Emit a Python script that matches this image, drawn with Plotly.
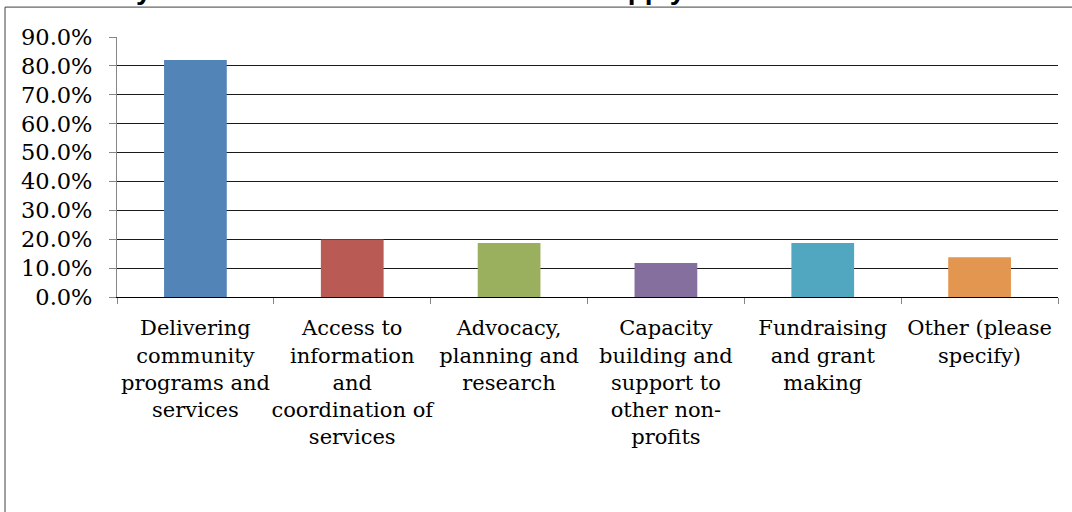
import plotly.graph_objects as go

categories = [
    "Delivering<br>community<br>programs and<br>services",
    "Access to<br>information<br>and<br>coordination of<br>services",
    "Advocacy,<br>planning and<br>research",
    "Capacity<br>building and<br>support to<br>other non-<br>profits",
    "Fundraising<br>and grant<br>making",
    "Other (please<br>specify)",
]
values = [82.0, 19.9, 18.7, 11.8, 18.7, 13.8]
colors = ["#5384B7", "#B95A54", "#9BB05E", "#856F9F", "#50A7BF", "#E3964F"]
y_ticks = [0, 10, 20, 30, 40, 50, 60, 70, 80, 90]
y_labels = [f"{v:.1f}%" for v in y_ticks]
title_text = "What are your main activities? Check all that apply."

fig = go.Figure(go.Bar(x=categories, y=values, marker=dict(color=colors, line=dict(width=0))))

fig.update_layout(
    width=1072, height=512,
    margin=dict(l=117, r=14, t=37, b=215, autoexpand=False),
    paper_bgcolor="white", plot_bgcolor="white",
    bargap=0.6, showlegend=False,
    font=dict(family="DejaVu Serif", color="#000"),
)
fig.update_yaxes(
    range=[0, 90], tickvals=y_ticks, ticktext=y_labels,
    showgrid=True, gridcolor="#1a1a1a", gridwidth=1,
    showline=True, linecolor="#868686", linewidth=1,
    ticks="outside", ticklen=7, tickcolor="#868686",
    tickfont=dict(size=22.5, family="DejaVu Serif", color="#000"),
    ticklabelstandoff=12, zeroline=False, automargin=False,
)
fig.update_xaxes(
    tickson="boundaries", ticks="outside", ticklen=6, tickcolor="#868686",
    showline=True, linecolor="#000", linewidth=1,
    tickfont=dict(size=21, family="DejaVu Serif", color="#000"),
    ticklabelstandoff=12, tickangle=0, automargin=False,
)
# outer chart border
fig.add_shape(type="rect", xref="paper", yref="paper",
              x0=-0.119, x1=1.2, y0=-1.0, y1=1.115,
              line=dict(color="#404040", width=1), fillcolor="rgba(0,0,0,0)", layer="below")
fig.add_annotation(text=f"<b>{title_text}</b>", xref="paper", yref="paper",
                   x=-0.116, y=1.117, xanchor="left", yanchor="bottom", showarrow=False,
                   font=dict(size=28, family="Liberation Sans", color="#000"))

fig.write_html("out.html", config={"displayModeBar": False},
               post_script="document.body.style.margin='0';document.body.style.overflow='hidden';")
